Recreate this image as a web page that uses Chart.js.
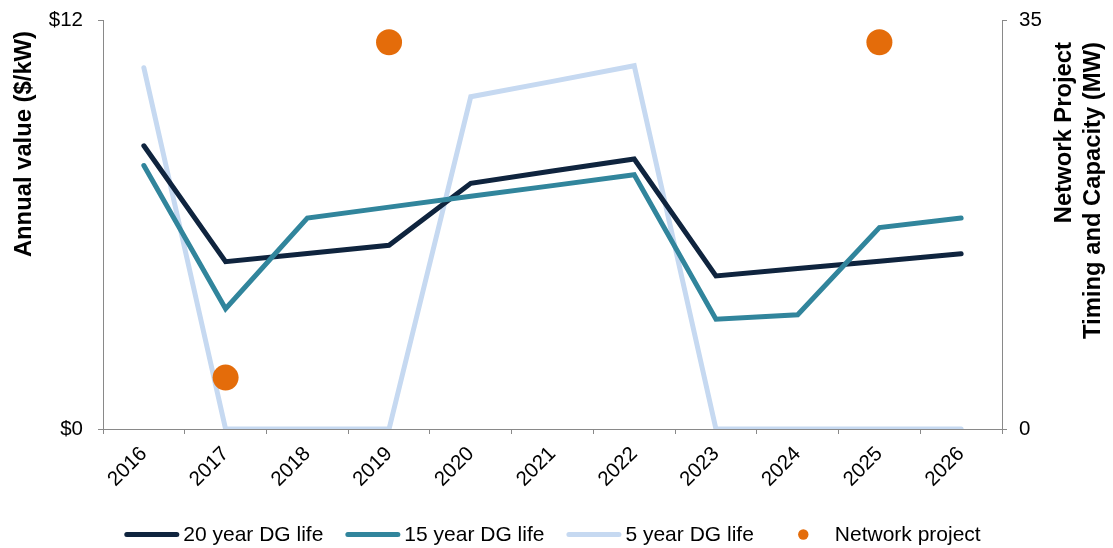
<!DOCTYPE html>
<html>
<head>
<meta charset="utf-8">
<title>Annual value of DG vs network project timing</title>
<script src="https://cdn.jsdelivr.net/npm/chart.js@4/dist/chart.umd.min.js"></script>
<style>
  html, body { margin: 0; padding: 0; background: #ffffff; }
  #wrap { width: 1113px; height: 548px; }
</style>
</head>
<body>
<div id="wrap"><canvas id="chart" width="1113" height="548"></canvas></div>
<script>
// Years on the category axis
const years = ['2016', '2017', '2018', '2019', '2020', '2021', '2022', '2023', '2024', '2025', '2026'];

// Annual value of DG ($/kW) by assumed DG life
const dg20 = [8.31, 4.91, 5.15, 5.39, 7.21, 7.57, 7.92, 4.49, 4.71, 4.92, 5.14];
const dg15 = [7.73, 3.53, 6.19, 6.51, 6.83, 7.14, 7.46, 3.22, 3.35, 5.91, 6.19];
const dg5  = [10.6, 0, 0, 0, 9.75, 10.2, 10.66, 0, 0, 0, 0];

// Network project timing and capacity (MW), right axis
const networkMW = [null, 4.4, null, 33.1, null, null, null, null, null, 33.1, null];

// Axis tick values
const valueTicks = [0, 12];
const mwTicks = [0, 35];

const seriesNames = ['20 year DG life', '15 year DG life', '5 year DG life', 'Network project'];

const NAVY = '#0F243E';
const TEAL = '#31859C';
const LIGHT = '#C6D9F1';
const ORANGE = '#E46C0A';
const AXIS = '#898989';
const FONT = '"Liberation Sans", Arial, Helvetica, sans-serif';

// Rotated axis titles (right-hand title is two lines)
const axisTitles = {
  id: 'axisTitles',
  afterDraw(chart) {
    const ctx = chart.ctx;
    ctx.save();
    ctx.fillStyle = '#000000';
    ctx.font = 'bold 23.8px ' + FONT;
    ctx.textAlign = 'right';
    ctx.textBaseline = 'middle';

    ctx.save();
    ctx.translate(24, 31);
    ctx.rotate(-Math.PI / 2);
    ctx.fillText('Annual value ($/kW)', 0, 0);
    ctx.restore();

    const rightLines = ['Network Project', 'Timing and Capacity (MW)'];
    ctx.save();
    ctx.translate(1064, 42);
    ctx.rotate(-Math.PI / 2);
    rightLines.forEach((t, i) => ctx.fillText(t, 0, i * 29));
    ctx.restore();

    ctx.restore();
  }
};

// Single-row legend under the plot: line samples and a dot for the project marker
const legendRow = {
  id: 'legendRow',
  afterDraw(chart) {
    const ctx = chart.ctx;
    const sampleW = 55, textGap = 4, itemGap = 22, cy = 534.5;
    ctx.save();
    ctx.font = '21px ' + FONT;
    ctx.textBaseline = 'middle';
    ctx.textAlign = 'left';
    const items = chart.data.datasets.map(ds => ({
      label: ds.label,
      color: ds.borderColor || ds.pointBackgroundColor,
      dot: ds.showLine === false,
      w: ctx.measureText(ds.label).width
    }));
    const total = items.reduce((s, it) => s + sampleW + textGap + it.w, 0) + itemGap * (items.length - 1);
    let x = (chart.width - total) / 2 - 4;
    items.forEach(it => {
      if (it.dot) {
        ctx.fillStyle = it.color;
        ctx.beginPath();
        ctx.arc(x + sampleW / 2, cy, 5.2, 0, Math.PI * 2);
        ctx.fill();
      } else {
        ctx.strokeStyle = it.color;
        ctx.lineWidth = 5;
        ctx.lineCap = 'round';
        ctx.beginPath();
        ctx.moveTo(x + 2.5, cy);
        ctx.lineTo(x + sampleW - 2.5, cy);
        ctx.stroke();
      }
      ctx.fillStyle = '#000000';
      ctx.fillText(it.label, x + sampleW + textGap, cy + 1);
      x += sampleW + textGap + it.w + itemGap;
    });
    ctx.restore();
  }
};

const lineStyle = {
  borderWidth: 5,
  pointRadius: 0,
  pointHoverRadius: 0,
  tension: 0,
  fill: false,
  borderJoinStyle: 'miter',
  borderCapStyle: 'round',
  yAxisID: 'y'
};

// Vertical axes: fixed width, and no extra top/bottom inset for end labels
function fixVertical(width) {
  return function (scale) {
    scale.width = width;
    scale.paddingTop = 0;
    scale.paddingBottom = 0;
  };
}

new Chart(document.getElementById('chart'), {
  type: 'line',
  data: {
    labels: years,
    datasets: [
      Object.assign({ label: seriesNames[0], data: dg20, borderColor: NAVY, backgroundColor: NAVY, order: 2 }, lineStyle),
      Object.assign({ label: seriesNames[1], data: dg15, borderColor: TEAL, backgroundColor: TEAL, order: 1 }, lineStyle),
      Object.assign({ label: seriesNames[2], data: dg5, borderColor: LIGHT, backgroundColor: LIGHT, order: 3 }, lineStyle),
      {
        label: seriesNames[3],
        data: networkMW,
        yAxisID: 'y2',
        showLine: false,
        pointRadius: 13,
        pointHoverRadius: 13,
        pointBorderWidth: 0,
        pointBackgroundColor: ORANGE,
        backgroundColor: ORANGE,
        order: 0
      }
    ]
  },
  options: {
    responsive: false,
    animation: false,
    devicePixelRatio: 1,
    layout: { autoPadding: false, padding: { top: 20, left: 0, right: 0, bottom: 0 } },
    plugins: {
      legend: { display: false },
      tooltip: { enabled: false },
      title: { display: false }
    },
    scales: {
      x: {
        type: 'category',
        offset: true,
        afterFit(scale) { scale.height = 119; },
        border: { display: true, color: AXIS, width: 1 },
        grid: { display: true, drawOnChartArea: false, drawTicks: true, tickLength: 5, color: AXIS, offset: true },
        ticks: { color: '#000000', font: { family: FONT, size: 20.5 }, minRotation: 45, maxRotation: 45, padding: 8, autoSkip: false }
      },
      y: {
        position: 'left',
        min: valueTicks[0],
        max: valueTicks[1],
        afterFit: fixVertical(103),
        afterBuildTicks(scale) { scale.ticks = valueTicks.map(v => ({ value: v })); },
        border: { display: true, color: AXIS, width: 1 },
        grid: { display: true, drawOnChartArea: false, drawTicks: true, tickLength: 5, color: AXIS },
        ticks: { color: '#000000', font: { family: FONT, size: 20.5 }, padding: 15, callback: v => '$' + v }
      },
      y2: {
        position: 'right',
        min: mwTicks[0],
        max: mwTicks[1],
        afterFit: fixVertical(111),
        afterBuildTicks(scale) { scale.ticks = mwTicks.map(v => ({ value: v })); },
        border: { display: true, color: AXIS, width: 1 },
        grid: { display: true, drawOnChartArea: false, drawTicks: true, tickLength: 5, color: AXIS },
        ticks: { color: '#000000', font: { family: FONT, size: 20.5 }, padding: 12 }
      }
    }
  },
  plugins: [axisTitles, legendRow]
});
</script>
</body>
</html>
